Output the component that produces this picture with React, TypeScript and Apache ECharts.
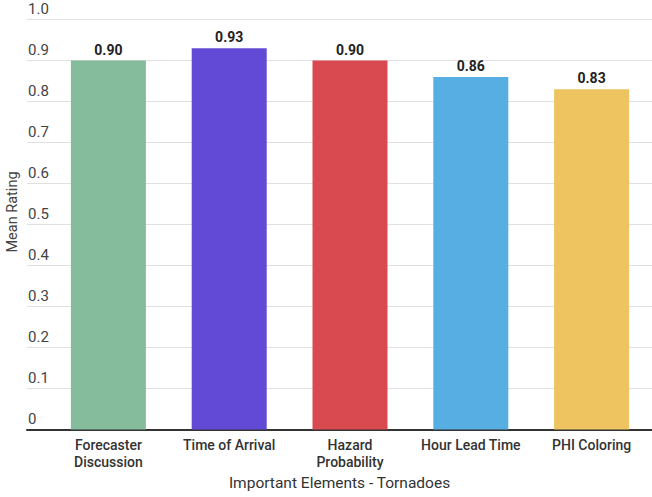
import React, { useEffect, useRef } from "react";
import * as echarts from "echarts";

const categories = ["Forecaster\nDiscussion", "Time of Arrival", "Hazard\nProbability", "Hour Lead Time", "PHI Coloring"];
const values = [0.9, 0.93, 0.9, 0.86, 0.83];
const colors = ["#84bc9c", "#624ad6", "#d94a50", "#56aee2", "#edc45f"];
const yMin = 0;
const yMax = 1;
const yStep = 0.1;
const yTitle = "Mean Rating";
const xTitle = "Important Elements - Tornadoes";

export default function App() {
  const ref = useRef<HTMLDivElement>(null);
  useEffect(() => {
    document.body.style.margin = "0";
    const chart = echarts.init(ref.current!, null, { renderer: "svg" });
    const font = "Roboto, sans-serif";
    chart.setOption({
      animation: false,
      textStyle: { fontFamily: font },
      grid: [
        { left: 27, right: 0, top: 19.5, bottom: 67.5 },
        { left: 48, right: -2, top: 19.5, bottom: 67.5 },
      ],
      graphic: [
        {
          type: "text",
          x: 12,
          y: 212,
          rotation: Math.PI / 2,
          style: {
            text: yTitle,
            fontSize: 14.5,
            fontFamily: font,
            fill: "#444444",
            align: "center",
            verticalAlign: "middle",
          },
        },
      ],
      xAxis: [
        {
          gridIndex: 0,
          type: "category",
          data: categories,
          axisLine: { show: true, lineStyle: { color: "#333333", width: 2 } },
          axisTick: { show: false },
          axisLabel: { show: false },
          splitLine: { show: false },
          name: xTitle,
          nameLocation: "middle",
          nameGap: 45,
          nameTextStyle: { fontSize: 15.5, color: "#333333", fontFamily: font },
        },
        {
          gridIndex: 1,
          type: "category",
          data: categories,
          axisLine: { show: false },
          axisTick: { show: false },
          axisLabel: {
            color: "#333333",
            fontSize: 14,
            lineHeight: 17,
            margin: 7,
            fontWeight: 500,
            fontFamily: font,
            interval: 0,
          },
        },
      ],
      yAxis: [
        {
          gridIndex: 0,
          type: "value",
          min: yMin,
          max: yMax,
          interval: yStep,
          axisLine: { show: false },
          axisTick: { show: false },
          splitLine: { show: true, lineStyle: { color: "#e0e0e0", width: 1 } },
          axisLabel: {
            inside: true,
            align: "left",
            verticalAlign: "bottom",
            margin: 1,
            padding: [0, 0, 3, 0],
            fontSize: 15,
            color: "#444444",
            fontFamily: font,
            formatter: (v: number) => (v === 0 ? "0" : v.toFixed(1)),
          },
        },
        {
          gridIndex: 1,
          type: "value",
          min: yMin,
          max: yMax,
          interval: yStep,
          show: false,
          splitLine: { show: false },
        },
      ],
      series: [
        {
          type: "bar",
          xAxisIndex: 1,
          yAxisIndex: 1,
          barWidth: 75,
          data: values.map((v, i) => ({ value: v, itemStyle: { color: colors[i] } })),
          label: {
            show: true,
            position: "top",
            distance: 4,
            fontSize: 14,
            fontWeight: "bold",
            color: "#222222",
            fontFamily: font,
            formatter: (p: any) => Number(p.value).toFixed(2),
          },
        },
      ],
    });
    return () => chart.dispose();
  }, []);
  return <div ref={ref} style={{ width: 652, height: 497 }} />;
}
